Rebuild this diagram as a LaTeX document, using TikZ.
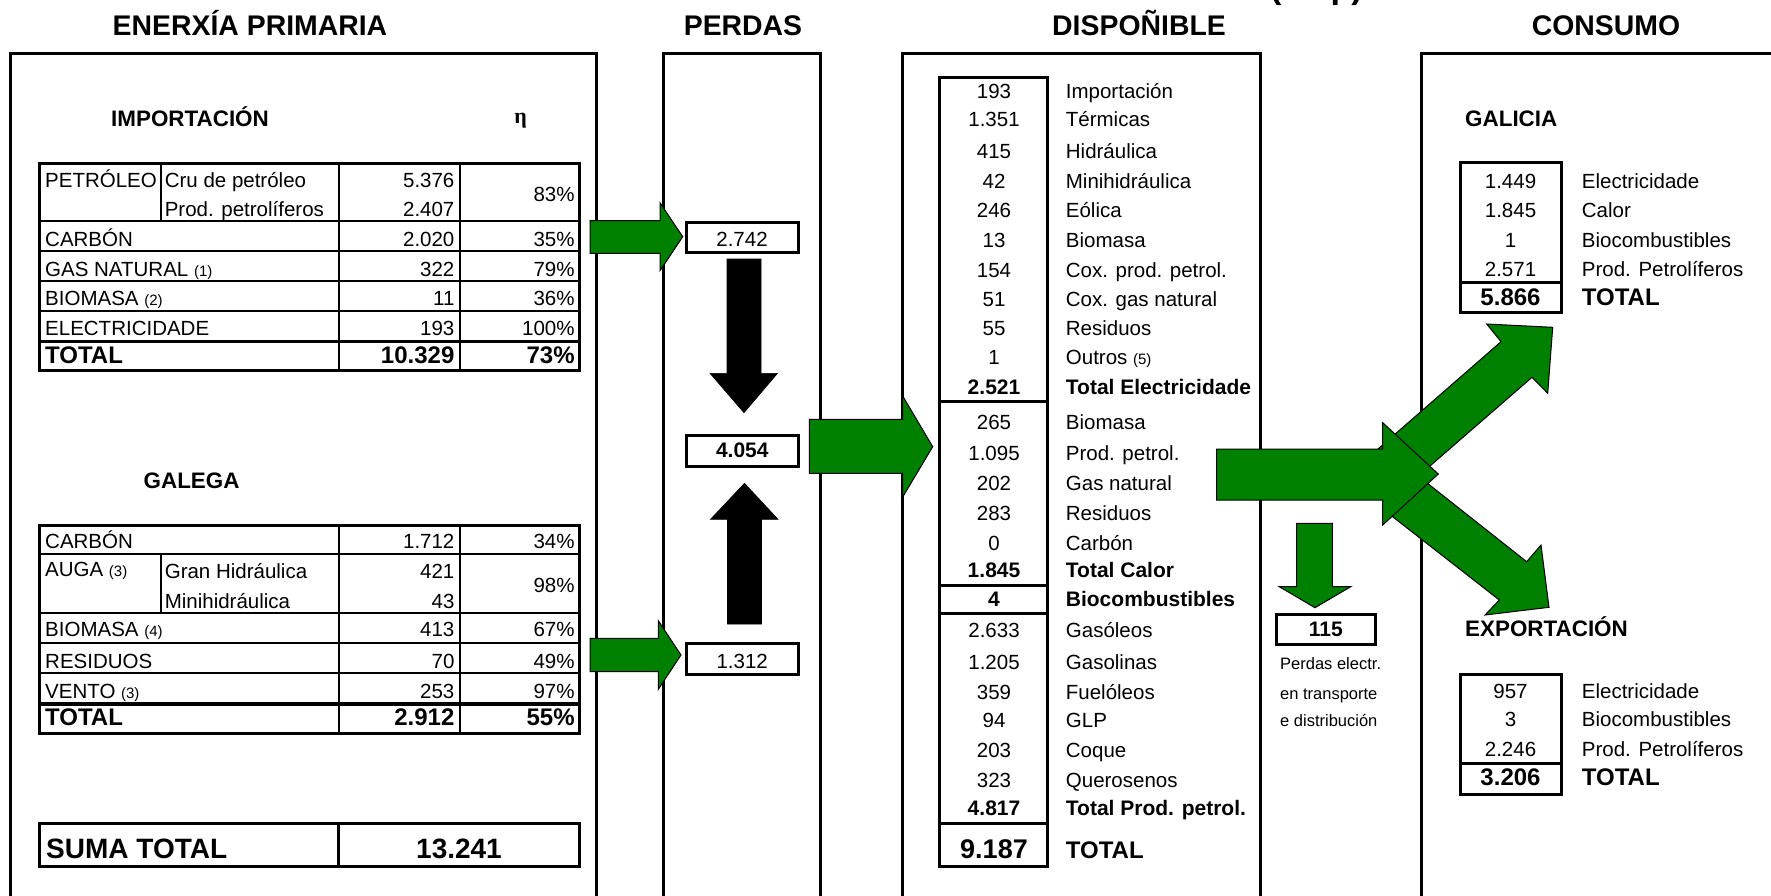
\documentclass[tikz,border=0pt]{standalone}
\usepackage{fontspec}
\setmainfont{Liberation Sans}
\newfontfamily\serifeta{Liberation Serif}
\definecolor{agreen}{RGB}{0,128,0}
\newcommand{\zN}{\fontsize{20.5}{24}\selectfont}
\newcommand{\zB}{\fontsize{21}{24}\selectfont\bfseries}
\newcommand{\zH}{\fontsize{28.4}{32}\selectfont\bfseries}
\newcommand{\zS}{\fontsize{22.4}{26}\selectfont\bfseries}
\newcommand{\zT}{\fontsize{24}{28}\selectfont\bfseries}
\newcommand{\zBig}{\fontsize{28}{32}\selectfont\bfseries}
\newcommand{\zSm}{\fontsize{15}{18}\selectfont}
\newcommand{\zP}{\fontsize{16.5}{20}\selectfont}
\begin{document}
\begin{tikzpicture}[x=1pt,y=-1pt,
  panel/.style={line width=3pt},
  tbl/.style={line width=2pt},
  tblthick/.style={line width=3pt},
  boxframe/.style={line width=3pt},
  garrow/.style={fill=agreen,draw=black,line width=1pt,line join=miter},
  barrow/.style={fill=black,draw=black,line width=0.6pt},
  tl/.style={inner sep=0pt,anchor=base west,font=\zN},
  tr/.style={inner sep=0pt,anchor=base east,font=\zN},
  tc/.style={inner sep=0pt,anchor=base,font=\zN},
  hd/.style={inner sep=0pt,anchor=base,font=\zH},
  sub/.style={inner sep=0pt,anchor=base west,font=\zS}]
\useasboundingbox (0,0) rectangle (1771,895);
\begin{scope}
\clip (0,0) rectangle (1771,895);
\fill[white] (0,0) rectangle (1771,895);

% title remnant
\node[inner sep=0pt,anchor=base west,font=\fontsize{34}{38}\selectfont\bfseries] (ktep) at (1270,-2) {(ktep)};

% headers
\node[hd] (hEP) at (250,35) {ENERXÍA PRIMARIA};
\node[hd] (hPE) at (743,35) {PERDAS};
\node[hd] (hDI) at (1139,35) {DISPOÑIBLE};
\node[hd] (hCO) at (1606,35) {CONSUMO};

% panels
\draw[panel] (10.7,905) -- (10.7,53.3) -- (596,53.3) -- (596,905);
\draw[panel] (663,905) -- (663,53.3) -- (820,53.3) -- (820,905);
\draw[panel] (902.5,905) -- (902.5,53.3) -- (1260.5,53.3) -- (1260.5,905);
\draw[panel] (1421,905) -- (1421,53.3) -- (1774,53.3) -- (1774,905);

% ---------- IMPORTACION ----------
\node[sub] (hIMP) at (111,126.7) {IMPORTACIÓN};
\node[inner sep=0pt,anchor=base,font=\fontsize{22}{26}\selectfont\serifeta\bfseries] (eta) at (520.5,123) {η};

\draw[tblthick] (39.4,163.3) rectangle (579.8,370.7);
\draw[tbl] (160.7,163.3) -- (160.7,221);
\draw[tbl] (338.7,163.3) -- (338.7,370.7);
\draw[tbl] (460.4,163.3) -- (460.4,370.7);
\foreach \yy in {221,251,281,311} \draw[tbl] (39.4,\yy) -- (579.8,\yy);
\draw[line width=3.5pt] (39.4,341.7) -- (579.8,341.7);

\node[tl] (i1) at (45,187) {PETRÓLEO};
\node[tl] (i1a) at (164.6,187) {Cru de petróleo};
\node[tl] (i1b) at (164.6,216.7) {Prod. petrolíferos};
\node[tr] (i1av) at (454.6,187) {5.376};
\node[tr] (i1bv) at (454.6,216.7) {2.407};
\node[tr] (i1e) at (574.8,201.7) {83\%};
\node[tl] (i2) at (45,246.7) {CARBÓN};
\node[tr] (i2v) at (454.6,246.7) {2.020};
\node[tr] (i2e) at (574.8,246.7) {35\%};
\node[tl] (i3) at (45,276.7) {GAS NATURAL {\zSm (1)}};
\node[tr] (i3v) at (454.6,276.7) {322};
\node[tr] (i3e) at (574.8,276.7) {79\%};
\node[tl] (i4) at (45,305) {BIOMASA {\zSm (2)}};
\node[tr] (i4v) at (454.6,305) {11};
\node[tr] (i4e) at (574.8,305) {36\%};
\node[tl] (i5) at (45,335) {ELECTRICIDADE};
\node[tr] (i5v) at (454.6,335) {193};
\node[tr] (i5e) at (574.8,335) {100\%};
\node[tl,font=\zT] (i6) at (45,363.3) {TOTAL};
\node[tr,font=\zT] (i6v) at (454.6,363.3) {10.329};
\node[tr,font=\zT] (i6e) at (574.8,363.3) {73\%};

% ---------- GALEGA ----------
\node[sub] (hGAL) at (143.5,488) {GALEGA};
\draw[tblthick] (39.4,525) rectangle (579.8,733.3);
\draw[tbl] (160.7,554.3) -- (160.7,613.3);
\draw[tbl] (338.7,525) -- (338.7,733.3);
\draw[tbl] (460.4,525) -- (460.4,733.3);
\foreach \yy in {554.3,613.3,643.3,673.3} \draw[tbl] (39.4,\yy) -- (579.8,\yy);
\draw[line width=3.5pt] (39.4,704) -- (579.8,704);

\node[tl] (g1) at (45,548.3) {CARBÓN};
\node[tr] (g1v) at (454.6,548.3) {1.712};
\node[tr] (g1e) at (574.8,548.3) {34\%};
\node[tl] (g2) at (45,576.7) {AUGA {\zSm (3)}};
\node[tl] (g2a) at (164.6,578) {Gran Hidráulica};
\node[tl] (g2b) at (164.6,608) {Minihidráulica};
\node[tr] (g2av) at (454.6,578) {421};
\node[tr] (g2bv) at (454.6,608) {43};
\node[tr] (g2e) at (574.8,592.7) {98\%};
\node[tl] (g3) at (45,636.7) {BIOMASA {\zSm (4)}};
\node[tr] (g3v) at (454.6,636.7) {413};
\node[tr] (g3e) at (574.8,636.7) {67\%};
\node[tl] (g4) at (45,668.3) {RESIDUOS};
\node[tr] (g4v) at (454.6,668.3) {70};
\node[tr] (g4e) at (574.8,668.3) {49\%};
\node[tl] (g5) at (45,698.3) {VENTO {\zSm (3)}};
\node[tr] (g5v) at (454.6,698.3) {253};
\node[tr] (g5e) at (574.8,698.3) {97\%};
\node[tl,font=\zT] (g6) at (45,725) {TOTAL};
\node[tr,font=\zT] (g6v) at (454.6,725) {2.912};
\node[tr,font=\zT] (g6e) at (574.8,725) {55\%};

% SUMA TOTAL
\draw[tblthick] (39.4,823.3) rectangle (579.8,866);
\draw[tblthick] (338.7,823.3) -- (338.7,866);
\node[tl,font=\zBig] (st) at (46,858) {SUMA TOTAL};
\node[tc,font=\zBig] (stv) at (459,858) {13.241};

% ---------- PERDAS ----------
\draw[boxframe] (686,222.3) rectangle (798,252.7);
\node[tc] (p1) at (742,246.7) {2.742};
\draw[boxframe] (686,435) rectangle (798.7,466);
\node[tc,font=\zB] (p2) at (742.3,457.3) {4.054};
\draw[boxframe] (686,643.3) rectangle (798.3,674);
\node[tc] (p3) at (742.2,668.3) {1.312};

\draw[barrow] (727,259) -- (761,259) -- (761,373.3) -- (777.5,373.3) -- (744,412.7) -- (710,373.3) -- (727,373.3) -- cycle;
\draw[barrow] (727.5,624) -- (761.5,624) -- (761.5,519.3) -- (778,519.3) -- (744.5,483.3) -- (710.5,519.3) -- (727.5,519.3) -- cycle;

\draw[garrow] (590,220.7) -- (660,220.7) -- (660,202.7) -- (682.7,236.7) -- (660,270.7) -- (660,253.3) -- (590,253.3) -- cycle;
\draw[garrow] (590,638.3) -- (658.3,638.3) -- (658.3,620.7) -- (681,655) -- (658.3,689.3) -- (658.3,671.7) -- (590,671.7) -- cycle;
\draw[garrow] (809.3,419.3) -- (902.7,419.3) -- (902.7,396) -- (932.7,446.7) -- (902.7,497) -- (902.7,473.3) -- (809.3,473.3) -- cycle;

% ---------- DISPONIBLE ----------
\draw[boxframe] (939.8,77.7) rectangle (1047.9,866.7);
\foreach \yy in {401.7,585,613.3,823.3} \draw[boxframe] (939.8,\yy) -- (1047.9,\yy);

\foreach \nm/\yy/\va/\lb in {
 d1/98.3/193/Importación,
 d2/126.7/1.351/Térmicas,
 d3/158.3/415/Hidráulica,
 d4/188.3/42/Minihidráulica,
 d5/217.7/246/Eólica,
 d6/247.3/13/Biomasa,
 d7/277.3/154/Cox. prod. petrol.,
 d8/306/51/Cox. gas natural,
 d9/335.7/55/Residuos,
 d11/429.3/265/Biomasa,
 d12/460/1.095/Prod. petrol.,
 d13/490/202/Gas natural,
 d14/520.7/283/Residuos,
 d15/550/0/Carbón,
 d17/637.3/2.633/Gasóleos,
 d18/669.3/1.205/Gasolinas,
 d19/699.3/359/Fuelóleos,
 d20/727.3/94/GLP,
 d21/757.3/203/Coque,
 d22/787.3/323/Querosenos}{
  \node[tc] (\nm v) at (994,\yy) {\va};
  \node[tl] (\nm l) at (1065.7,\yy) {\lb};
}
\node[tc] (d10v) at (994,364) {1};
\node[tl] (d10l) at (1065.7,364) {Outros {\zSm (5)}};
\node[tc,font=\zB] (e1v) at (994,394) {2.521};
\node[tl,font=\zB] (e1l) at (1065.7,394) {Total Electricidade};
\node[tc,font=\zB] (c1v) at (994,577.3) {1.845};
\node[tl,font=\zB] (c1l) at (1065.7,577.3) {Total Calor};
\node[tc,font=\zB] (b1v) at (994,606.7) {4};
\node[tl,font=\zB] (b1l) at (1065.7,606.7) {Biocombustibles};
\node[tc,font=\zB] (pp1v) at (994,815.7) {4.817};
\node[tl,font=\zB] (pp1l) at (1065.7,815.7) {Total Prod. petrol.};
\node[tc,font=\fontsize{27}{30}\selectfont\bfseries] (tdv) at (994,858.3) {9.187};
\node[tl,font=\zT] (tdl) at (1065.7,858.3) {TOTAL};

% small loss arrow and box
\draw[garrow] (1296.7,523.3) -- (1332.3,523.3) -- (1332.3,586.7) -- (1350.7,586.7) -- (1315,607.7) -- (1279.3,586.7) -- (1296.7,586.7) -- cycle;
\draw[boxframe] (1276.7,614) rectangle (1375,644.3);
\node[tc,font=\zB] (lv) at (1325.8,636.7) {115};
\node[tl,font=\zP] (lt1) at (1280,669.3) {Perdas electr.};
\node[tl,font=\zP] (lt2) at (1280,699.3) {en transporte};
\node[tl,font=\zP] (lt3) at (1280,726.7) {e distribución};

% ---------- CONSUMO ----------
\node[sub] (hGA) at (1465,126.7) {GALICIA};
\draw[boxframe] (1460,162.7) rectangle (1561,312.3);
\draw[boxframe] (1460,282.7) -- (1561,282.7);
\node[tc] (c1) at (1510.5,188.3) {1.449};
\node[tl] (c1t) at (1581.7,188.3) {Electricidade};
\node[tc] (c2) at (1510.5,217.7) {1.845};
\node[tl] (c2t) at (1581.7,217.7) {Calor};
\node[tc] (c3) at (1510.5,247.3) {1};
\node[tl] (c3t) at (1581.7,247.3) {Biocombustibles};
\node[tc] (c4) at (1510.5,276.7) {2.571};
\node[tl] (c4t) at (1581.7,276.7) {Prod. Petrolíferos};
\node[tc,font=\zT] (c5) at (1510.5,305) {5.866};
\node[tl,font=\zT] (c5t) at (1581.7,305) {TOTAL};

\node[sub] (hEX) at (1465,636.7) {EXPORTACIÓN};
\draw[boxframe] (1460,674) rectangle (1561,794);
\draw[boxframe] (1460,763.3) -- (1561,763.3);
\node[tc] (x1) at (1510.5,698.3) {957};
\node[tl] (x1t) at (1581.7,698.3) {Electricidade};
\node[tc] (x2) at (1510.5,726.7) {3};
\node[tl] (x2t) at (1581.7,726.7) {Biocombustibles};
\node[tc] (x3) at (1510.5,756.7) {2.246};
\node[tl] (x3t) at (1581.7,756.7) {Prod. Petrolíferos};
\node[tc,font=\zT] (x4) at (1510.5,785) {3.206};
\node[tl,font=\zT] (x4t) at (1581.7,785) {TOTAL};

% diagonal arrows (behind the horizontal one)
\draw[garrow] (1369.6,456.3) -- (1501,341.7) -- (1486.7,324) -- (1552.7,327.3) -- (1547.7,393.3) -- (1532,377.3) -- (1400.4,491.7) -- cycle;
\draw[garrow] (1400,461.6) -- (1526.7,561.7) -- (1541,545) -- (1549,607.3) -- (1485,615) -- (1499.3,600) -- (1385,510.8) -- cycle;
% horizontal big arrow
\draw[garrow] (1216.7,449) -- (1382.7,449) -- (1382.7,422.7) -- (1438.3,474) -- (1382.7,525) -- (1382.7,500) -- (1216.7,500) -- cycle;
\end{scope}
\end{tikzpicture}
\end{document}
